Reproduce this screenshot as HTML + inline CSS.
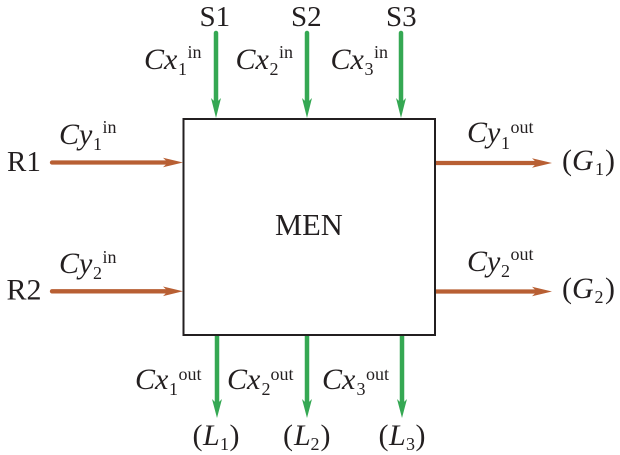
<!DOCTYPE html>
<html>
<head>
<meta charset="utf-8">
<style>
html,body{margin:0;padding:0;background:#fff;}
svg{display:block;}
text{font-family:"Liberation Serif",serif;fill:#231f20;}
.m{font-size:30px;}
.n{font-size:29px;}
.i{font-size:30px;font-style:italic;}
.s{font-size:18px;}
.g{stroke:#35a853;stroke-width:4.5;fill:none;}
.gh{fill:#35a853;}
.b{stroke:#b85f33;stroke-width:4.3;fill:none;}
.bh{fill:#b85f33;}
</style>
</head>
<body>
<svg width="620" height="455" viewBox="0 0 620 455" xmlns="http://www.w3.org/2000/svg">
<rect x="183.500" y="119" width="251.500" height="216" fill="#fff" stroke="#231f20" stroke-width="2"/>

<path class="g" d="M216 33V105" stroke-linecap="round"/><path class="gh" d="M216 118L211 98L216 103L221 98Z"/>
<path class="g" d="M307 33V105" stroke-linecap="round"/><path class="gh" d="M307 118L302 98L307 103L312 98Z"/>
<path class="g" d="M401 33V105" stroke-linecap="round"/><path class="gh" d="M401 118L396 98L401 103L406 98Z"/>

<path class="g" d="M217 336V405"/><path class="gh" d="M217 418L212 399L217 404L222 399Z"/>
<path class="g" d="M307 336V405"/><path class="gh" d="M307 418L302 399L307 404L312 399Z"/>
<path class="g" d="M402 336V405"/><path class="gh" d="M402 418L397 399L402 404L407 399Z"/>

<path class="b" d="M52 162.500H172" stroke-linecap="round"/><path class="bh" d="M183 162.500L163 157.700L168 162.500L163 167.300Z"/>
<path class="b" d="M52 291.300H172" stroke-linecap="round"/><path class="bh" d="M183 291.300L163 286.500L168 291.300L163 296.100Z"/>
<path class="b" d="M436 163H541"/><path class="bh" d="M552 163L532 158.200L537 163L532 167.800Z"/>
<path class="b" d="M436 291.500H541"/><path class="bh" d="M552 291.500L532 286.700L537 291.500L532 296.300Z"/>

<text class="n" x="199.500" y="26">S1</text>
<text class="n" x="291" y="26">S2</text>
<text class="n" x="386" y="26">S3</text>
<text class="n" x="7" y="171">R1</text>
<text class="m" x="6.500" y="299.500">R2</text>
<text class="m" x="275" y="235" style="font-size:30.500px">MEN</text>

<text class="i" x="144" y="69">Cx</text><text class="s" x="178" y="75">1</text><text class="s" x="187.500" y="58">in</text>
<text class="i" x="235.500" y="69">Cx</text><text class="s" x="269.500" y="75">2</text><text class="s" x="279" y="58">in</text>
<text class="i" x="330.500" y="69">Cx</text><text class="s" x="364.500" y="75">3</text><text class="s" x="374" y="58">in</text>

<text class="i" x="59" y="144">Cy</text><text class="s" x="93" y="150">1</text><text class="s" x="102.500" y="133">in</text>
<text class="i" x="59" y="273">Cy</text><text class="s" x="93" y="279">2</text><text class="s" x="102.500" y="263">in</text>

<text class="i" x="467" y="142">Cy</text><text class="s" x="501" y="149">1</text><text class="s" x="510.500" y="133">out</text>
<text class="i" x="467" y="271">Cy</text><text class="s" x="501" y="277">2</text><text class="s" x="510.500" y="260">out</text>

<text class="i" x="135" y="389">Cx</text><text class="s" x="169" y="395">1</text><text class="s" x="178.500" y="380">out</text>
<text class="i" x="227" y="389">Cx</text><text class="s" x="261.500" y="395">2</text><text class="s" x="270.500" y="380">out</text>
<text class="i" x="322" y="389">Cx</text><text class="s" x="356.500" y="395">3</text><text class="s" x="366" y="380">out</text>

<text class="m" x="562" y="170">(</text><text class="i" x="572" y="170">G</text><text class="s" x="595" y="175">1</text><text class="m" x="605" y="170">)</text>
<text class="m" x="562" y="298">(</text><text class="i" x="572" y="298">G</text><text class="s" x="594.500" y="303">2</text><text class="m" x="605" y="298">)</text>

<text class="m" x="192.500" y="445">(</text><text class="i" x="203" y="445">L</text><text class="s" x="220" y="450">1</text><text class="m" x="229.500" y="445">)</text>
<text class="m" x="283" y="445">(</text><text class="i" x="294" y="445">L</text><text class="s" x="310.500" y="450">2</text><text class="m" x="320.500" y="445">)</text>
<text class="m" x="378.500" y="445">(</text><text class="i" x="389" y="445">L</text><text class="s" x="406" y="450">3</text><text class="m" x="415.500" y="445">)</text>
</svg>
</body>
</html>
